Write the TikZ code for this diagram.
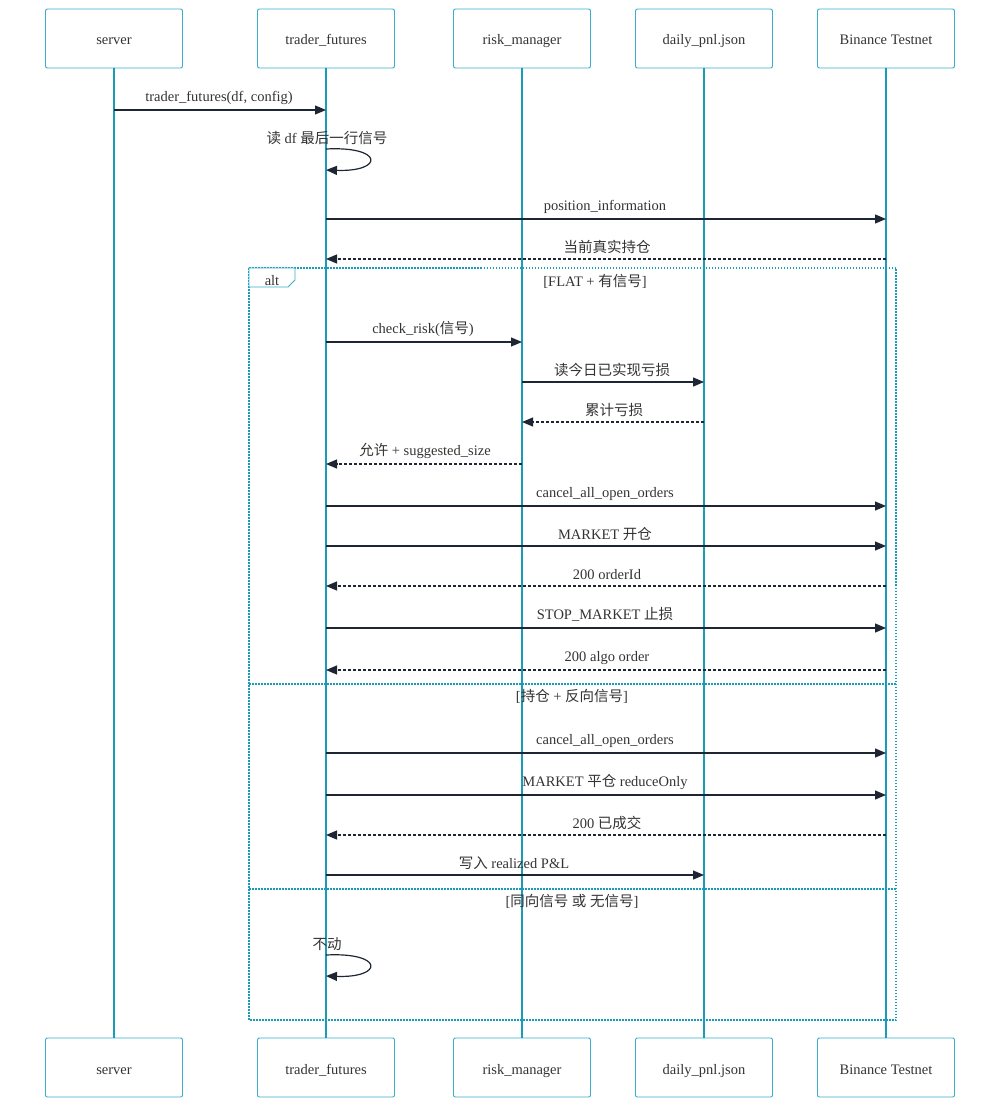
\documentclass[tikz,border=0pt]{standalone}
\usepackage{fontspec}
\setmainfont{Liberation Serif}
\newfontfamily\cjk{Noto Sans CJK SC}
\usetikzlibrary{arrows.meta}
\definecolor{life}{HTML}{1A9BB8}
\definecolor{boxline}{HTML}{3AAFC8}
\definecolor{arr}{HTML}{1E2633}
\definecolor{txt}{HTML}{333333}
\tikzset{
  actor/.style={draw=boxline, line width=0.9pt, rounded corners=2pt, minimum width=137pt, minimum height=59pt, inner sep=0pt, text=txt, font=\fontsize{14.5}{16}\selectfont, text height=13pt, text depth=0pt},
  lifeline/.style={draw=life, line width=1.8pt},
  msg/.style={draw=arr, line width=1.2pt, -{Triangle[length=11pt,width=9pt]}},
  reply/.style={msg, dash pattern=on 3pt off 2pt},
  lbl/.style={text=txt, font=\fontsize{14.5}{16}\selectfont, inner sep=0pt, text height=12pt, text depth=1pt},
  frame/.style={draw=life, line width=1.4pt, dash pattern=on 1.5pt off 1.5pt},
}
\begin{document}
\begin{tikzpicture}[x=1pt,y=-1pt]
\useasboundingbox (0,0) rectangle (1000,1107);
% actors top
\node[actor] (s1) at (114,38.5) {server};
\node[actor] (t1) at (326,38.5) {trader\_futures};
\node[actor] (r1) at (522,38.5) {risk\_manager};
\node[actor] (d1) at (704,38.5) {daily\_pnl.json};
\node[actor] (b1) at (886,38.5) {Binance Testnet};
% actors bottom
\node[actor] (s2) at (114,1067.5) {server};
\node[actor] (t2) at (326,1067.5) {trader\_futures};
\node[actor] (r2) at (522,1067.5) {risk\_manager};
\node[actor] (d2) at (704,1067.5) {daily\_pnl.json};
\node[actor] (b2) at (886,1067.5) {Binance Testnet};
% lifelines
\draw[lifeline] (s1.south) -- (s2.north);
\draw[lifeline] (t1.south) -- (t2.north);
\draw[lifeline] (r1.south) -- (r2.north);
\draw[lifeline] (d1.south) -- (d2.north);
\draw[lifeline] (b1.south) -- (b2.north);
% coordinates on lifelines
\foreach \n/\x in {s/114,t/326,r/522,d/704,b/886}{
  \foreach \y in {110,149,170,219,259,342,382,422,464,506,546,586,628,670,753,795,835,875,955,976}{
    \coordinate (\n\y) at (\x,\y);
  }
}
% messages
\draw[msg] (s110) -- (t110);
\node[lbl] (m1) at (219,96) {trader\_futures(df, config)};
\node[lbl] (m2) at (327,138) {{\cjk 读} df {\cjk 最后一行信号}};
\draw[msg] (t149) .. controls (384,146) and (384,172) .. (t170);
\draw[msg] (t219) -- (b219);
\node[lbl] (m3) at (605,205) {position\_information};
\draw[reply] (b259) -- (t259);
\node[lbl] (m4) at (607,247) {\cjk 当前真实持仓};
% alt frame
\draw[frame] (249,268) rectangle (896,1020);
\draw[draw=boxline, line width=0.9pt, fill=white] (249,268) -- (295,268) -- (295,280) -- (288,287) -- (249,287) -- cycle;
\node[lbl] (alt) at (272,280) {alt};
\node[lbl] (c1) at (595,281) {[FLAT + {\cjk 有信号}]};
\draw[msg] (t342) -- (r342);
\node[lbl] (m5) at (423,328) {check\_risk({\cjk 信号})};
\draw[msg] (r382) -- (d382);
\node[lbl] (m6) at (612,370) {\cjk 读今日已实现亏损};
\draw[reply] (d422) -- (r422);
\node[lbl] (m7) at (614,410) {\cjk 累计亏损};
\draw[reply] (r464) -- (t464);
\node[lbl] (m8) at (425,450) {{\cjk 允许} + suggested\_size};
\draw[msg] (t506) -- (b506);
\node[lbl] (m9) at (605,492) {cancel\_all\_open\_orders};
\draw[msg] (t546) -- (b546);
\node[lbl] (m10) at (605,534) {MARKET {\cjk 开仓}};
\draw[reply] (b586) -- (t586);
\node[lbl] (m11) at (607,574) {200 orderId};
\draw[msg] (t628) -- (b628);
\node[lbl] (m12) at (605,614) {STOP\_MARKET {\cjk 止损}};
\draw[reply] (b670) -- (t670);
\node[lbl] (m13) at (607,656) {200 algo order};
% separator 1
\draw[frame] (249,684) -- (896,684);
\node[lbl] (c2) at (572,696) {[{\cjk 持仓} + {\cjk 反向信号}]};
\draw[msg] (t753) -- (b753);
\node[lbl] (m14) at (605,739) {cancel\_all\_open\_orders};
\draw[msg] (t795) -- (b795);
\node[lbl] (m15) at (605,781) {MARKET {\cjk 平仓} reduceOnly};
\draw[reply] (b835) -- (t835);
\node[lbl] (m16) at (607,823) {200 {\cjk 已成交}};
\draw[msg] (t875) -- (d875);
\node[lbl] (m17) at (514,863) {{\cjk 写入} realized P\&L};
% separator 2
\draw[frame] (249,889) -- (896,889);
\node[lbl] (c3) at (572,901) {[{\cjk 同向信号} {\cjk 或} {\cjk 无信号}]};
\node[lbl] (m18) at (327,944) {\cjk 不动};
\draw[msg] (t955) .. controls (384,952) and (384,978) .. (t976);
\end{tikzpicture}
\end{document}
